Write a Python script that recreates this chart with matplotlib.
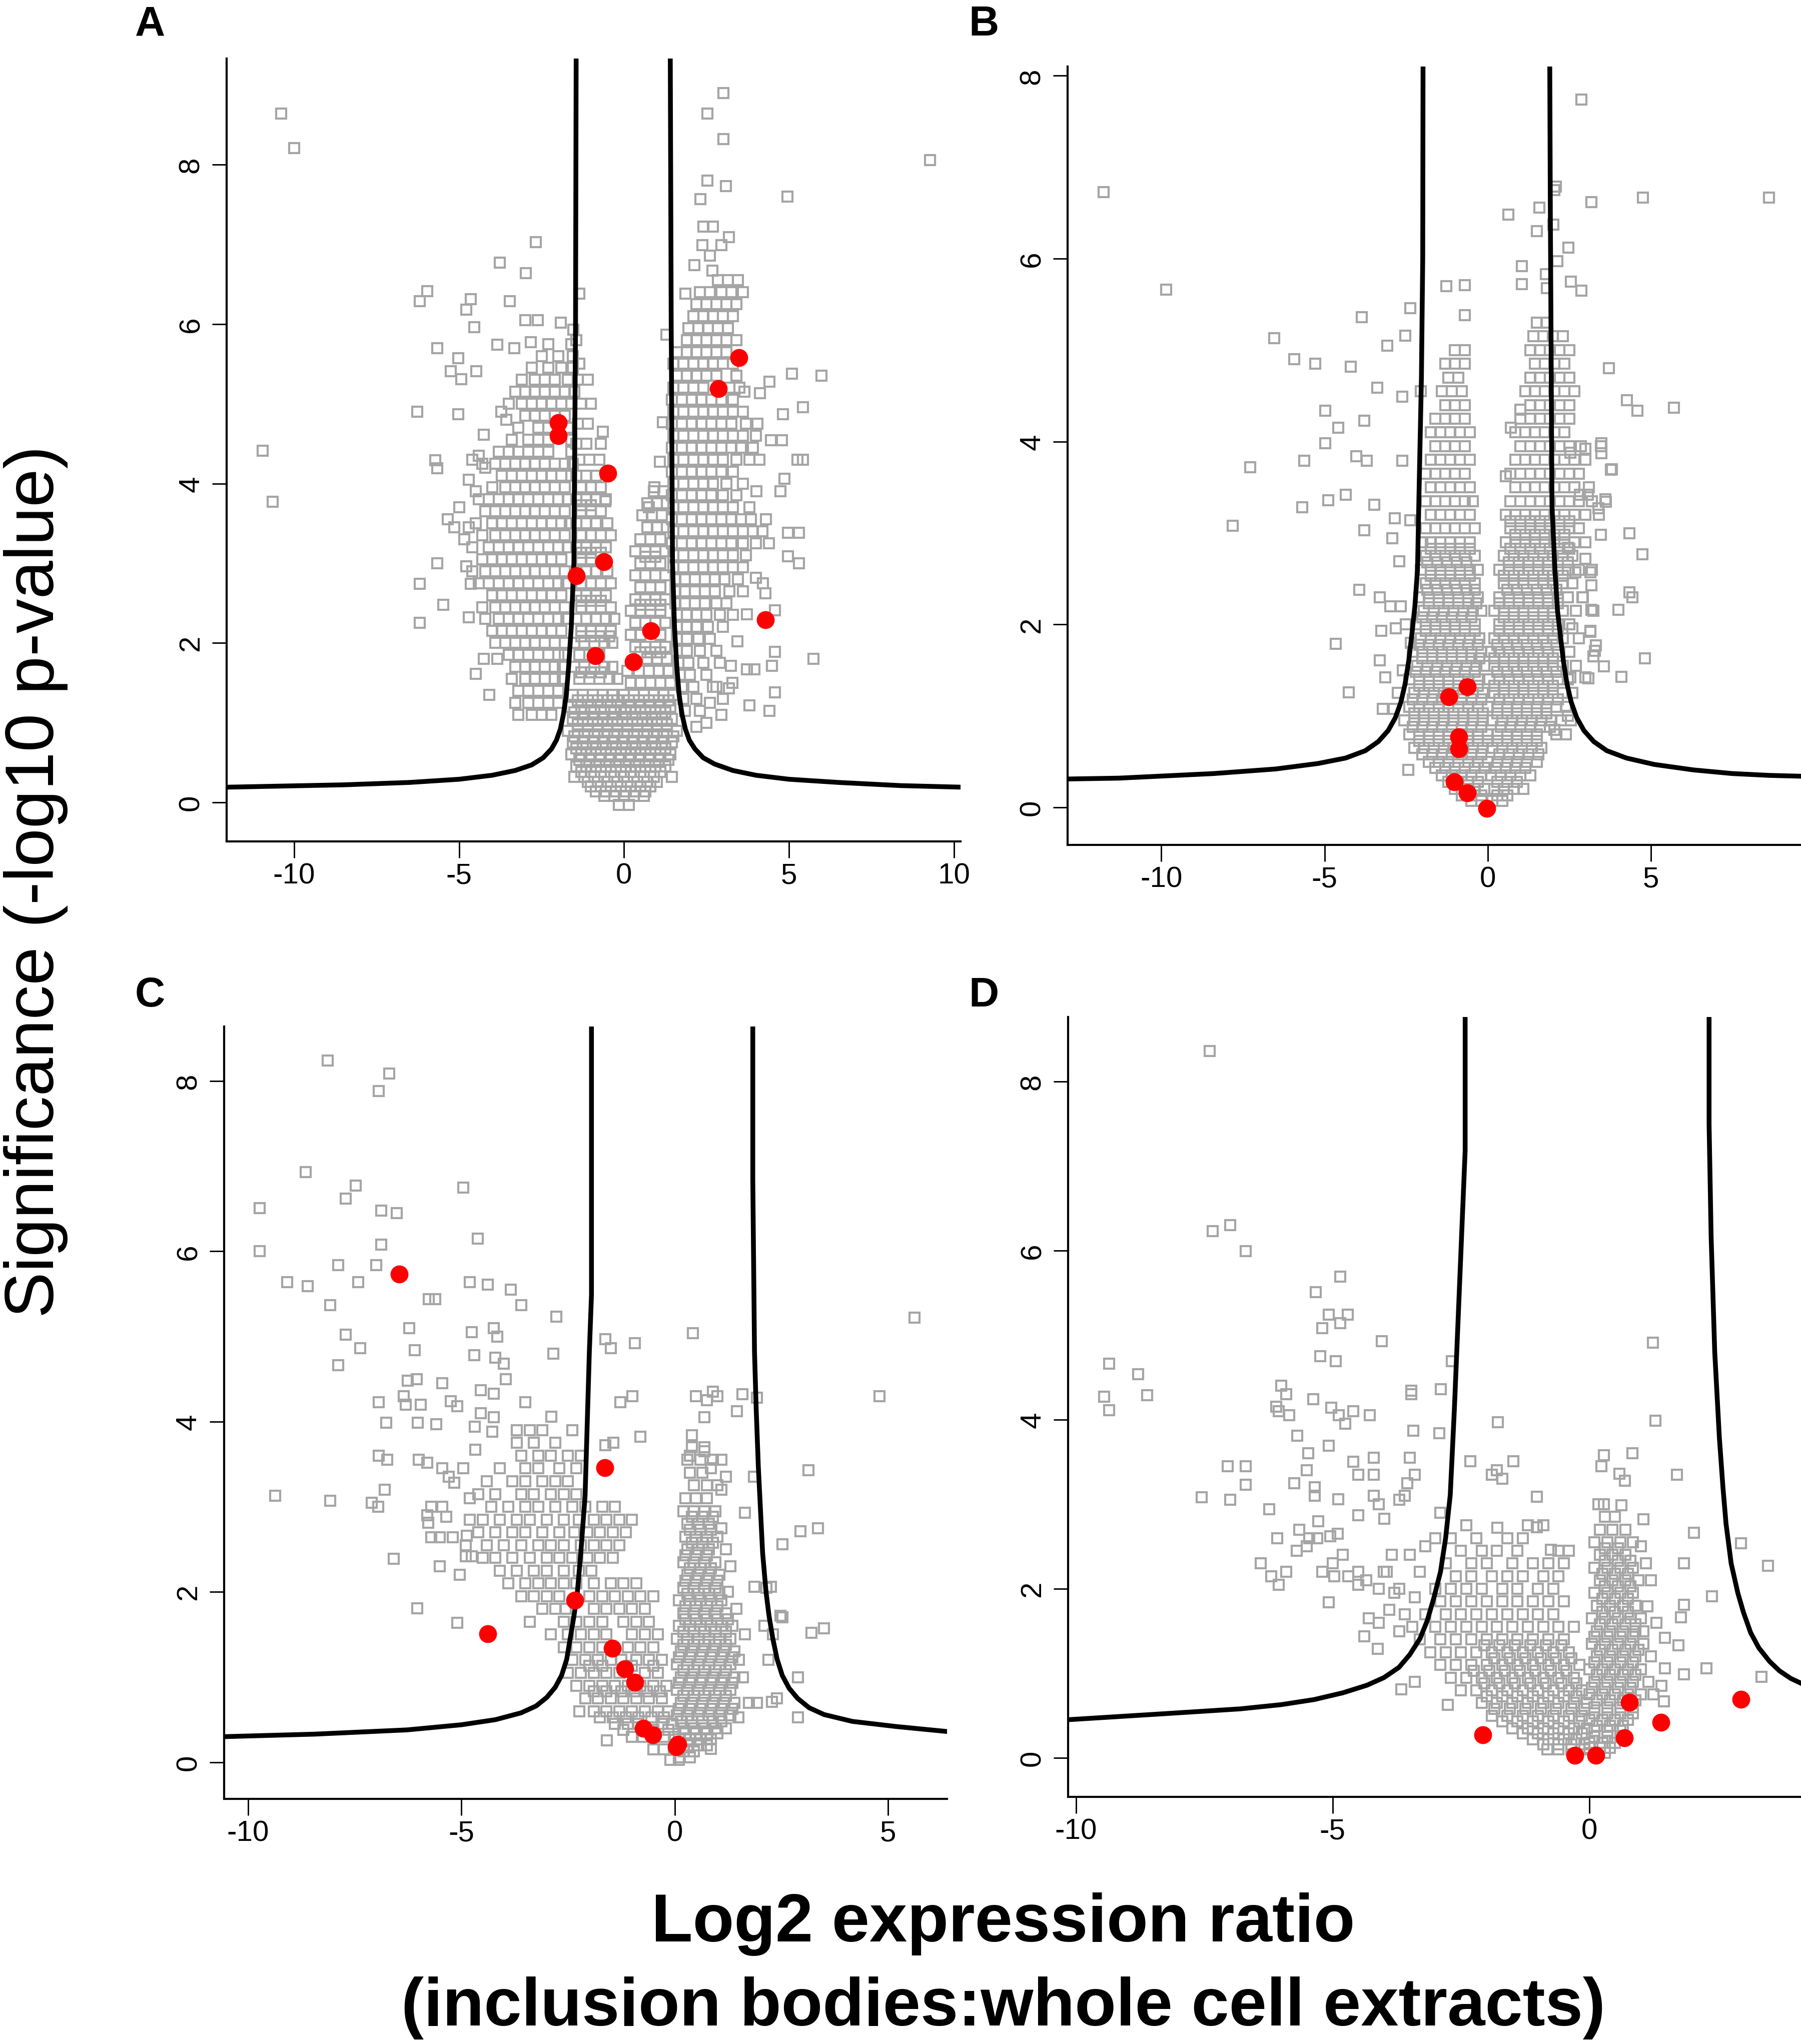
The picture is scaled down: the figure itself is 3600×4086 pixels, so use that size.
import matplotlib
matplotlib.use("Agg")
import matplotlib.pyplot as plt

plt.rcParams['font.family'] = ['Liberation Sans', 'DejaVu Sans']
plt.rcParams['axes.unicode_minus'] = False

GREY = '#a5a5a5'

# ---------------- panel A ----------------
a_xlim = (-12.05, 10.2)
a_ylim = (-0.49, 9.33)
a_xticks = [-10, -5, 0, 5, 10]
a_yticks = [0, 2, 4, 6, 8]

a_scatter = [
    (-10.4, 8.64), (-10.0, 8.21), (-10.95, 4.41), (-10.65, 3.77), (9.27, 8.06),
    (3.01, 8.90), (2.53, 8.64), (3.01, 8.32), (2.53, 7.80), (3.09, 7.73), (2.32, 7.57),
    (4.95, 7.60), (2.40, 7.22), (2.70, 7.22), (3.18, 7.09), (2.37, 6.99), (2.95, 6.99),
    (2.60, 6.86), (2.14, 6.74), (2.68, 6.67), (1.86, 6.38), (1.28, 5.87),
    (-2.67, 7.03), (-3.77, 6.77), (-2.98, 6.64), (-5.96, 6.41), (-6.19, 6.29), (-4.64, 6.31),
    (-4.79, 6.18), (-3.47, 6.29), (-4.54, 5.96), (-3.0, 6.05), (-2.62, 6.05), (-1.91, 6.02),
    (-1.35, 6.38), (-1.53, 5.93), (-5.66, 5.70), (-5.02, 5.57), (-5.25, 5.41), (-4.94, 5.31),
    (-4.48, 5.41), (-3.85, 5.74), (-3.32, 5.70), (-2.83, 5.77), (-6.27, 4.90), (-5.02, 4.87),
    (-4.25, 4.61), (-3.72, 4.9), (-3.57, 4.8), (-5.73, 4.29), (-5.66, 4.19),
    (-6.19, 2.74), (-5.66, 3.0), (-6.19, 2.25), (-5.48, 2.48), (-4.71, 2.32), (-5.0, 3.7),
    (-5.35, 3.55), (-5.15, 3.45), (-4.7, 3.45), (-4.85, 3.3), (-4.79, 2.96), (-4.64, 2.74),
    (-4.49, 1.61), (-4.08, 1.35), (-4.25, 1.8), (-3.84, 1.8), (-4.6, 4.3), (-4.4, 4.35),
    (-4.2, 4.2), (-4.7, 4.05), (-4.5, 3.9),
    (5.09, 5.38), (5.99, 5.35), (5.42, 4.96), (4.82, 4.87), (4.41, 5.28), (4.12, 5.13),
    (3.65, 5.15), (4.79, 4.54), (4.46, 4.54), (5.42, 4.3), (5.25, 4.3), (4.86, 4.06),
    (4.74, 3.9), (4.02, 3.9), (4.97, 3.38), (5.30, 3.38), (4.97, 3.09), (5.30, 3.0),
    (4.0, 2.82), (4.21, 2.75), (4.29, 2.62), (4.58, 2.41), (3.72, 2.36), (5.75, 1.8),
    (4.58, 1.89), (4.49, 1.71), (4.58, 1.38), (4.41, 1.15), (3.80, 1.22), (3.72, 1.67),
    (3.95, 1.67), (3.24, 1.71), (3.28, 1.5), (3.18, 1.43), (3.44, 2.02), (2.6, 1.25),
    (2.95, 1.1), (2.5, 1.0), (2.2, 0.95), (2.8, 1.45), (3.0, 1.3),
    (-0.64, 4.65), (-0.56, 3.78), (1.09, 4.27), (0.92, 3.95), (0.75, 3.7), (1.17, 4.77),
]

a_rows = [
    # right lobe
    (6.55, [2.85, 3.15, 3.45]),
    (6.4, [2.3, 2.6, 2.95, 3.25, 3.6]),
    (6.25, [2.2, 2.5, 2.8, 3.1, 3.4]),
    (6.1, [2.1, 2.4, 2.7, 3.0, 3.3]),
    (5.95, [1.95, 2.25, 2.55, 2.85, 3.15]),
    (5.8, [1.9, 2.2, 2.5, 2.8, 3.1, 3.4]),
    (5.65, [1.6, 1.9, 2.2, 2.5, 2.8, 3.1]),
    (5.5, [1.5, 1.8, 2.1, 2.4, 2.7, 3.0, 3.3]),
    (5.35, [1.6, 1.9, 2.2, 2.5, 2.8, 3.4]),
    (5.2, [1.5, 1.8, 2.1, 2.4, 3.2, 3.5]),
    (5.05, [1.45, 1.75, 2.05, 2.35, 2.65, 2.95, 3.3]),
    (4.9, [1.5, 1.8, 2.1, 2.4, 2.7, 3.0, 3.3, 3.6]),
    (4.75, [1.45, 1.75, 2.05, 2.35, 2.65, 2.95, 3.25, 3.7, 4.05]),
    (4.6, [1.5, 1.8, 2.1, 2.4, 2.7, 3.0, 3.3, 3.6, 4.0]),
    (4.45, [1.45, 1.75, 2.05, 2.35, 2.65, 2.95, 3.25, 3.55, 3.9]),
    (4.3, [1.5, 1.8, 2.1, 2.4, 2.7, 3.0, 3.4, 3.8, 4.1]),
    (4.15, [1.45, 1.75, 2.05, 2.35, 2.65, 2.95, 3.3]),
    (4.0, [1.5, 1.8, 2.1, 2.4, 2.7, 3.1, 3.6]),
    (3.85, [1.45, 1.75, 2.05, 2.35, 2.65, 3.0, 3.4]),
    (3.7, [1.5, 1.8, 2.1, 2.4, 2.7, 3.0, 3.3, 3.8]),
    (3.55, [1.45, 1.75, 2.05, 2.35, 2.65, 2.95, 3.25, 3.55, 3.85, 4.3]),
    (3.4, [1.5, 1.8, 2.1, 2.4, 2.7, 3.0, 3.3, 3.6, 3.9, 4.2]),
    (3.25, [1.45, 1.75, 2.05, 2.35, 2.65, 2.95, 3.25, 3.6, 4.0, 4.4]),
    (3.1, [1.5, 1.8, 2.1, 2.4, 2.7, 3.0, 3.3, 3.7]),
    (2.95, [1.5, 1.8, 2.1, 2.4, 2.7, 3.0, 3.3, 3.6]),
    (2.8, [1.55, 1.85, 2.15, 2.45, 2.75, 3.05, 3.45]),
    (2.65, [1.55, 1.85, 2.15, 2.45, 2.75, 3.2, 3.6]),
    (2.5, [1.55, 1.85, 2.15, 2.45, 2.8, 3.1]),
    (2.35, [1.6, 1.9, 2.2, 2.5, 2.9, 3.3]),
    (2.2, [1.6, 1.9, 2.2, 2.55, 3.0]),
    (2.05, [1.6, 1.9, 2.25, 2.6]),
    (1.9, [1.6, 1.9, 2.3, 2.8]),
    (1.75, [1.65, 1.95, 2.4, 2.9]),
    (1.6, [1.7, 2.0, 2.5]),
    (1.45, [1.75, 2.1, 2.7]),
    (1.3, [1.8, 2.2]),
    (1.15, [1.85, 2.3]),
    # left lobe
    (5.75, [-2.3, -1.6]),
    (5.6, [-2.5, -2.0, -1.55]),
    (5.45, [-2.8, -2.3, -1.9, -1.55]),
    (5.3, [-3.1, -2.7, -2.4, -2.1, -1.7]),
    (5.15, [-3.3, -3.0, -2.7, -2.4, -2.1, -1.8, -1.5]),
    (5.0, [-3.5, -3.1, -2.8, -2.5, -2.2, -1.9, -1.6]),
    (4.85, [-3.0, -2.7, -2.4, -2.1, -1.8]),
    (4.7, [-3.2, -2.6, -2.3, -1.7]),
    (4.55, [-3.4, -2.9, -2.6, -2.3, -1.6]),
    (4.4, [-3.8, -3.5, -3.2, -2.9, -2.6, -2.3, -1.6]),
    (4.25, [-4.3, -3.9, -3.6, -3.3, -3.0, -2.7, -2.4, -2.1, -1.8, -1.55]),
    (4.1, [-3.7, -3.4, -3.1, -2.8, -2.5, -2.2, -1.9, -1.6]),
    (3.95, [-4.0, -3.6, -3.3, -3.0, -2.7, -2.4, -2.1, -1.8]),
    (3.8, [-4.4, -4.1, -3.8, -3.5, -3.2, -2.9, -2.6, -2.3, -2.0, -1.7]),
    (3.65, [-4.2, -3.9, -3.6, -3.3, -3.0, -2.7, -2.4, -2.1, -1.8]),
    (3.5, [-4.5, -4.0, -3.7, -3.4, -3.1, -2.8, -2.5, -2.2, -1.9, -1.65]),
    (3.35, [-4.3, -3.9, -3.6, -3.3, -3.0, -2.7, -2.4, -2.1, -1.8]),
    (3.2, [-4.6, -4.1, -3.8, -3.5, -3.2, -2.9, -2.6, -2.3, -2.0, -1.7]),
    (3.05, [-4.3, -4.0, -3.7, -3.4, -3.1, -2.8, -2.5, -2.2, -1.9]),
    (2.9, [-4.6, -4.2, -3.9, -3.6, -3.3, -3.0, -2.7, -2.4, -2.1, -1.8]),
    (2.75, [-4.4, -4.1, -3.8, -3.5, -3.2, -2.9, -2.6, -2.3, -2.0, -1.75]),
    (2.6, [-4.0, -3.7, -3.4, -3.1, -2.8, -2.5, -2.2, -1.9]),
    (2.45, [-4.3, -3.9, -3.6, -3.3, -3.0, -2.7, -2.4, -2.1, -1.8]),
    (2.3, [-4.2, -3.8, -3.5, -3.2, -2.9, -2.6, -2.3, -2.0, -1.75]),
    (2.15, [-4.0, -3.7, -3.4, -3.1, -2.8, -2.5, -2.2, -1.9]),
    (2.0, [-3.9, -3.6, -3.3, -3.0, -2.7, -2.4, -2.1, -1.8]),
    (1.85, [-3.5, -3.2, -2.9, -2.6, -2.3, -2.0, -1.8]),
    (1.7, [-3.3, -3.0, -2.7, -2.4, -2.1, -1.85]),
    (1.55, [-3.4, -3.0, -2.7, -2.4, -2.1, -1.85]),
    (1.4, [-3.2, -2.9, -2.6, -2.3, -2.0]),
    (1.25, [-3.3, -2.9, -2.6, -2.3, -2.0]),
    (1.1, [-3.2, -2.8, -2.5, -2.2]),
    # inner left column
    (5.8, [-1.45]),
    (5.5, [-1.35]),
    (5.3, [-1.4, -1.1]),
    (5.0, [-1.3, -1.0]),
    (4.75, [-1.4, -1.1]),
    (4.5, [-1.45, -1.15, -0.7]),
    (4.3, [-1.35, -1.05, -0.75]),
    (4.1, [-1.45, -1.15, -0.85]),
    (3.95, [-1.3, -1.0, -0.7]),
    (3.8, [-1.45, -1.15, -0.85, -0.55]),
    (3.73, [-1.3, -1.0]),
    (3.65, [-1.3, -1.0, -0.7]),
    (3.5, [-1.45, -1.15, -0.85, -0.5]),
    (3.35, [-1.3, -1.0, -0.7, -0.4]),
    (3.2, [-1.45, -1.15, -0.85, -0.55]),
    (3.13, [-1.3, -1.0, -0.7]),
    (3.05, [-1.3, -1.0]),
    (2.9, [-1.45, -1.15, -0.85, -0.5]),
    (2.75, [-1.3, -1.0, -0.7, -0.4]),
    (2.6, [-1.45, -1.15, -0.85, -0.55]),
    (2.53, [-1.3, -1.0, -0.7]),
    (2.45, [-1.3, -1.0, -0.7, -0.4]),
    (2.3, [-1.45, -1.15, -0.85, -0.55, -0.3]),
    (2.15, [-1.3, -1.0, -0.7, -0.4]),
    (2.08, [-1.3, -1.0, -0.7, -0.45]),
    (2.0, [-1.5, -1.2, -0.9, -0.6, -0.35]),
    (1.85, [-1.35, -1.05, -0.75]),
    (1.7, [-1.5, -1.2, -0.9, -0.6, -0.35]),
    (1.63, [-1.3, -1.0, -0.7]),
    (1.55, [-1.35, -1.05, -0.75, -0.45, -0.2]),
    # inner right column
    (3.9, [0.9, 1.2]),
    (3.75, [0.7, 1.0, 1.3]),
    (3.6, [0.55, 0.85, 1.15]),
    (3.45, [0.7, 1.0, 1.3]),
    (3.3, [0.5, 0.8, 1.1]),
    (3.15, [0.35, 0.65, 0.95, 1.25]),
    (3.08, [0.65, 0.95]),
    (3.0, [0.5, 0.8, 1.1]),
    (2.85, [0.35, 0.65, 0.95, 1.25]),
    (2.7, [0.5, 0.8, 1.1]),
    (2.55, [0.35, 0.65, 0.95, 1.25]),
    (2.48, [0.5, 0.8, 1.1]),
    (2.4, [0.2, 0.5, 0.8, 1.1]),
    (2.25, [0.35, 0.65, 0.95, 1.25]),
    (2.1, [0.2, 0.5, 1.1]),
    (1.95, [0.35, 0.65, 0.95, 1.25]),
    (1.88, [0.5, 0.8, 1.1]),
    (1.8, [0.7, 1.0, 1.3]),
    (1.65, [0.1, 0.45, 0.75, 1.05, 1.35]),
    (1.5, [0.2, 0.5, 0.8, 1.1, 1.4]),
    # bottom of the V
    (1.35, [-1.55, -1.25, -0.95, -0.65, -0.35, 0.0, 0.3, 0.6, 0.9, 1.2, 1.5]),
    (1.28, [-1.4, -1.1, -0.8, -0.5, -0.2, 0.15, 0.45, 0.75, 1.05, 1.35]),
    (1.2, [-1.6, -1.3, -1.0, -0.7, -0.4, -0.1, 0.2, 0.5, 0.8, 1.1, 1.4]),
    (1.13, [-1.5, -1.2, -0.9, -0.6, -0.3, 0.05, 0.35, 0.65, 0.95, 1.25]),
    (1.05, [-1.55, -1.25, -0.95, -0.65, -0.35, -0.05, 0.25, 0.55, 0.85, 1.15, 1.45]),
    (0.98, [-1.4, -1.1, -0.8, -0.5, -0.2, 0.1, 0.4, 0.7, 1.0, 1.3]),
    (0.9, [-1.7, -1.4, -1.1, -0.8, -0.5, -0.2, 0.1, 0.4, 0.7, 1.0, 1.3, 1.6]),
    (0.83, [-1.5, -1.2, -0.9, -0.6, -0.3, 0.0, 0.3, 0.6, 0.9, 1.2, 1.5]),
    (0.75, [-1.55, -1.25, -0.95, -0.65, -0.35, -0.05, 0.25, 0.55, 0.85, 1.15, 1.45]),
    (0.68, [-1.45, -1.15, -0.85, -0.55, -0.25, 0.05, 0.35, 0.65, 0.95, 1.25]),
    (0.6, [-1.6, -1.3, -1.0, -0.7, -0.4, -0.1, 0.2, 0.5, 0.8, 1.1, 1.4]),
    (0.53, [-1.35, -1.05, -0.75, -0.45, -0.15, 0.15, 0.45, 0.75, 1.05, 1.35]),
    (0.45, [-1.45, -1.15, -0.85, -0.55, -0.25, 0.05, 0.35, 0.65, 0.95, 1.25]),
    (0.38, [-1.3, -1.0, -0.7, -0.4, -0.1, 0.2, 0.5, 0.8, 1.1]),
    (0.32, [-1.5, -1.2, -0.9, -0.6, -0.3, 0.0, 0.3, 0.6, 0.9, 1.45]),
    (0.26, [-1.1, -0.8, -0.5, -0.2, 0.1, 0.4, 0.7, 1.0]),
    (0.2, [-1.0, -0.7, -0.4, -0.1, 0.2, 0.5, 0.8]),
    (0.14, [-0.85, -0.55, -0.25, 0.05, 0.35, 0.65]),
    (0.08, [-0.6, -0.3, 0.0, 0.3, 0.6]),
    (-0.03, [-0.15, 0.15]),
]

a_red = [(-2.0, 4.76), (-2.0, 4.60), (-0.49, 4.13), (-0.61, 3.02), (-1.45, 2.84),
         (-0.87, 1.84), (0.28, 1.76), (0.82, 2.15), (4.28, 2.29), (2.86, 5.19), (3.49, 5.58)]

a_curve_left = [(-1.45, 9.6), (-1.47, 6.0), (-1.52, 3.0), (-1.6, 2.2), (-1.68, 1.7),
                (-1.75, 1.35), (-1.84, 1.1), (-1.93, 0.92), (-2.05, 0.78), (-2.2, 0.67),
                (-2.45, 0.56), (-2.8, 0.47), (-3.3, 0.4), (-4.0, 0.34), (-5.0, 0.29),
                (-6.5, 0.25), (-8.5, 0.22), (-12.1, 0.19)]
a_curve_right = [(1.40, 9.6), (1.43, 6.0), (1.47, 3.0), (1.53, 2.2), (1.6, 1.7),
                 (1.67, 1.35), (1.76, 1.1), (1.86, 0.92), (1.98, 0.78), (2.15, 0.67),
                 (2.4, 0.56), (2.75, 0.48), (3.3, 0.4), (4.0, 0.34), (5.0, 0.29),
                 (6.5, 0.25), (8.4, 0.21), (10.3, 0.19)]

# ---------------- panel B ----------------
b_xlim = (-12.87, 9.6)
b_ylim = (-0.41, 8.1)
b_xticks = [-10, -5, 0, 5]
b_yticks = [0, 2, 4, 6, 8]

b_scatter = [
    (-11.77, 6.73), (-9.85, 5.66), (2.87, 7.74), (8.62, 6.67), (4.76, 6.67), (3.17, 6.62),
    (2.09, 6.79), (2.05, 6.75), (0.63, 6.48), (1.59, 6.56), (1.51, 6.3), (2.01, 6.37),
    (1.04, 5.92), (1.04, 5.72), (2.47, 6.12), (2.14, 5.97), (2.55, 5.75), (2.87, 5.65),
    (1.79, 5.83), (1.82, 5.68),
    (-2.37, 5.46), (-1.27, 5.70), (-0.70, 5.71), (-0.70, 5.38), (-3.86, 5.36), (-2.53, 5.16),
    (-3.07, 5.05), (-6.54, 5.13), (-5.93, 4.90), (-5.29, 4.85), (-4.19, 4.82), (-3.39, 4.59),
    (-2.61, 4.49), (-4.98, 4.34), (-4.58, 4.15), (-3.78, 4.23), (-4.98, 3.98), (-4.03, 3.84),
    (-3.70, 3.79), (-5.62, 3.79), (-7.27, 3.72), (-2.61, 3.79), (-4.89, 3.36), (-4.35, 3.42),
    (-5.68, 3.28), (-3.47, 3.31), (-7.82, 3.08), (-3.78, 3.03), (-2.84, 3.16), (-2.37, 3.14),
    (-2.92, 2.94), (-2.71, 2.69), (-3.94, 2.38), (-4.66, 1.79), (-4.25, 1.26), (-2.44, 0.41),
    (-3.26, 1.93), (-3.30, 1.61), (-3.14, 1.42), (-3.22, 1.08), (-2.87, 1.08), (-2.82, 1.96),
    (-3.30, 2.30), (-2.99, 2.2), (-2.67, 2.2), (-2.51, 2.0), (-2.36, 1.80), (-2.6, 1.5),
    (-2.75, 1.25), (-2.05, 4.55),
    (3.72, 4.80), (4.27, 4.45), (4.59, 4.34), (5.70, 4.37), (3.49, 3.98), (3.49, 3.87),
    (3.80, 3.70), (3.60, 3.37), (4.35, 3.0), (4.74, 2.77), (4.35, 2.35), (4.43, 2.3),
    (4.0, 2.16), (4.82, 1.63), (4.09, 1.43), (3.56, 1.54), (3.08, 1.41), (3.15, 1.93),
    (3.28, 1.71), (3.17, 2.43), (3.17, 2.16), (3.47, 2.98), (3.07, 3.42),
    (2.53, 3.88), (2.99, 3.92), (3.47, 3.95), (3.78, 3.69), (2.83, 3.42), (3.62, 3.34),
    (3.39, 3.27), (2.45, 2.84), (2.99, 2.72), (2.68, 2.57), (3.14, 2.57), (2.91, 2.30),
    (3.24, 2.15), (2.60, 1.96), (3.14, 1.92), (3.31, 1.77), (3.24, 1.65), (2.53, 1.42),
    (2.99, 1.42), (2.45, 1.0), (2.05, 0.85), (0.71, 4.15), (1.0, 4.35), (0.55, 3.62),
]

b_rows = [
    # left column
    (5.0, [-1.0, -0.7]),
    (4.85, [-1.3, -1.0, -0.7]),
    (4.7, [-1.2, -0.9]),
    (4.55, [-1.4, -1.1, -0.8]),
    (4.4, [-1.3, -1.0, -0.7]),
    (4.25, [-1.6, -1.3, -1.0, -0.7]),
    (4.1, [-1.75, -1.45, -1.15, -0.85, -0.55]),
    (3.95, [-1.6, -1.3, -1.0, -0.7]),
    (3.8, [-1.75, -1.45, -1.15, -0.85, -0.55]),
    (3.65, [-1.9, -1.6, -1.3, -1.0, -0.7]),
    (3.5, [-1.75, -1.45, -1.15, -0.85, -0.55]),
    (3.35, [-1.9, -1.6, -1.3, -1.0, -0.7, -0.45]),
    (3.2, [-1.75, -1.45, -1.15, -0.85, -0.55]),
    (3.05, [-1.9, -1.6, -1.3, -1.0, -0.7, -0.4]),
    (2.9, [-2.0, -1.75, -1.45, -1.15, -0.85, -0.55]),
    (2.83, [-1.75, -1.45, -1.15, -0.85, -0.55]),
    (2.75, [-1.9, -1.6, -1.3, -1.0, -0.7, -0.4]),
    (2.68, [-1.85, -1.55, -1.25, -0.95, -0.65]),
    (2.6, [-2.05, -1.75, -1.45, -1.15, -0.85, -0.55, -0.3]),
    (2.53, [-1.75, -1.45, -1.15, -0.85, -0.55]),
    (2.45, [-1.9, -1.6, -1.3, -1.0, -0.7, -0.4]),
    (2.38, [-1.85, -1.55, -1.25, -0.95, -0.65, -0.4]),
    (2.3, [-2.1, -1.8, -1.5, -1.2, -0.9, -0.6, -0.3]),
    (2.23, [-1.8, -1.5, -1.2, -0.9, -0.6, -0.35]),
    (2.15, [-1.95, -1.65, -1.35, -1.05, -0.75, -0.45, -0.2]),
    (2.08, [-2.0, -1.7, -1.4, -1.1, -0.8, -0.5]),
    (2.0, [-2.2, -1.9, -1.6, -1.3, -1.0, -0.7, -0.4]),
    (1.93, [-1.9, -1.6, -1.3, -1.0, -0.7, -0.4]),
    (1.85, [-2.05, -1.75, -1.45, -1.15, -0.85, -0.55, -0.25]),
    (1.78, [-2.1, -1.8, -1.5, -1.2, -0.9, -0.6, -0.3]),
    (1.7, [-2.3, -2.0, -1.7, -1.4, -1.1, -0.8, -0.5, -0.2]),
    (1.63, [-2.0, -1.7, -1.4, -1.1, -0.8, -0.5, -0.25]),
    (1.55, [-2.15, -1.85, -1.55, -1.25, -0.95, -0.65, -0.35, -0.1]),
    (1.48, [-2.2, -1.9, -1.6, -1.3, -1.0, -0.7, -0.4]),
    (1.4, [-2.4, -2.1, -1.8, -1.5, -1.2, -0.9, -0.6, -0.3]),
    (1.33, [-2.1, -1.8, -1.5, -1.2, -0.9, -0.6, -0.3]),
    (1.25, [-2.25, -1.95, -1.65, -1.35, -1.05, -0.75, -0.45, -0.15]),
    (1.18, [-2.3, -2.0, -1.7, -1.4, -1.1, -0.8, -0.5, -0.2]),
    (1.1, [-2.4, -2.1, -1.8, -1.5, -1.2, -0.9, -0.6, -0.3, 0.0]),
    (1.03, [-2.25, -1.95, -1.65, -1.35, -1.05, -0.75, -0.45, -0.15]),
    (0.95, [-2.55, -2.25, -1.95, -1.65, -1.35, -1.05, -0.75, -0.45, -0.15]),
    (0.88, [-2.3, -2.0, -1.7, -1.4, -1.1, -0.8, -0.5, -0.2]),
    (0.8, [-2.4, -2.1, -1.8, -1.5, -1.2, -0.9, -0.6, -0.3, 0.0]),
    (0.73, [-2.1, -1.8, -1.5, -1.2, -0.9, -0.6, -0.3, 0.0]),
    (0.65, [-2.25, -1.95, -1.65, -1.35, -1.05, -0.75, -0.45, -0.15]),
    (0.58, [-2.0, -1.7, -1.4, -1.1, -0.8, -0.5, -0.2]),
    (0.5, [-1.8, -1.5, -1.2, -0.9, -0.6, -0.3, 0.0]),
    (0.43, [-1.6, -1.3, -1.0, -0.7, -0.4, -0.1]),
    (0.35, [-1.4, -1.1, -0.8, -0.5, -0.2]),
    (0.28, [-1.2, -0.9, -0.6, -0.3]),
    (0.2, [-1.0, -0.7, -0.4, -0.1]),
    (0.13, [-0.8, -0.5, -0.2]),
    (0.07, [-0.5, -0.2]),
    # right column
    (5.3, [1.5, 1.8]),
    (5.15, [1.4, 1.7, 2.0, 2.3]),
    (5.0, [1.3, 1.6, 1.9, 2.2, 2.5]),
    (4.85, [1.45, 1.75, 2.05, 2.35]),
    (4.7, [1.3, 1.6, 1.9, 2.2, 2.5]),
    (4.55, [1.15, 1.45, 1.75, 2.05, 2.35, 2.65]),
    (4.4, [1.3, 1.6, 1.9, 2.2, 2.5]),
    (4.25, [1.0, 1.3, 1.6, 1.9, 2.2, 2.5]),
    (4.1, [0.85, 1.15, 1.45, 1.75, 2.05, 2.35]),
    (3.95, [1.0, 1.3, 1.6, 1.9, 2.2, 2.5, 2.85]),
    (3.8, [0.85, 1.15, 1.45, 1.75, 2.05, 2.35, 2.65, 3.0]),
    (3.65, [0.7, 1.0, 1.3, 1.6, 1.9, 2.2, 2.5, 2.8]),
    (3.5, [0.85, 1.15, 1.45, 1.75, 2.05, 2.35, 2.65, 3.1]),
    (3.35, [0.7, 1.0, 1.3, 1.6, 1.9, 2.2, 2.5, 2.8, 3.2]),
    (3.2, [0.55, 0.85, 1.15, 1.45, 1.75, 2.05, 2.35, 2.65, 3.0, 3.4]),
    (3.13, [0.7, 1.0, 1.3, 1.6, 1.9, 2.2, 2.5]),
    (3.05, [0.7, 1.0, 1.3, 1.6, 1.9, 2.2, 2.5, 2.8]),
    (2.98, [0.85, 1.15, 1.45, 1.75, 2.05, 2.35]),
    (2.9, [0.55, 0.85, 1.15, 1.45, 1.75, 2.05, 2.35, 2.65, 3.0]),
    (2.83, [0.7, 1.0, 1.3, 1.6, 1.9, 2.2, 2.5]),
    (2.75, [0.5, 0.8, 1.1, 1.4, 1.7, 2.0, 2.3, 2.6]),
    (2.68, [0.65, 0.95, 1.25, 1.55, 1.85, 2.15, 2.45]),
    (2.6, [0.35, 0.65, 0.95, 1.25, 1.55, 1.85, 2.15, 2.45, 2.8, 3.2]),
    (2.53, [0.5, 0.8, 1.1, 1.4, 1.7, 2.0, 2.3]),
    (2.45, [0.5, 0.8, 1.1, 1.4, 1.7, 2.0, 2.3, 2.6]),
    (2.38, [0.6, 0.9, 1.2, 1.5, 1.8, 2.1]),
    (2.3, [0.35, 0.65, 0.95, 1.25, 1.55, 1.85, 2.15, 2.45, 2.9]),
    (2.23, [0.35, 0.65, 0.95, 1.25, 1.55, 1.85, 2.15]),
    (2.15, [0.2, 0.5, 0.8, 1.1, 1.4, 1.7, 2.0, 2.3, 2.7]),
    (2.08, [0.5, 0.8, 1.1, 1.4, 1.7, 2.0]),
    (2.0, [0.35, 0.65, 0.95, 1.25, 1.55, 1.85, 2.15, 2.5]),
    (1.93, [0.35, 0.65, 0.95, 1.25, 1.55, 1.85, 2.15]),
    (1.85, [0.2, 0.5, 0.8, 1.1, 1.4, 1.7, 2.0, 2.3, 2.8]),
    (1.78, [0.3, 0.6, 0.9, 1.2, 1.5, 1.8, 2.1]),
    (1.7, [0.1, 0.35, 0.65, 0.95, 1.25, 1.55, 1.85, 2.15, 2.5]),
    (1.63, [0.2, 0.5, 0.8, 1.1, 1.4, 1.7, 2.0]),
    (1.55, [0.2, 0.5, 0.8, 1.1, 1.4, 1.7, 2.0, 2.3, 2.7]),
    (1.48, [0.3, 0.6, 0.9, 1.2, 1.5, 1.8, 2.1]),
    (1.4, [0.05, 0.35, 0.65, 0.95, 1.25, 1.55, 1.85, 2.15, 2.45]),
    (1.33, [0.2, 0.5, 0.8, 1.1, 1.4, 1.7, 2.0]),
    (1.25, [0.2, 0.5, 0.8, 1.1, 1.4, 1.7, 2.0, 2.3, 2.6]),
    (1.18, [0.35, 0.65, 0.95, 1.25, 1.55, 1.85, 2.15]),
    (1.1, [0.3, 0.6, 0.9, 1.2, 1.5, 1.8, 2.1, 2.4]),
    (1.03, [0.3, 0.6, 0.9, 1.2, 1.5, 1.8]),
    (0.95, [0.15, 0.45, 0.75, 1.05, 1.35, 1.65, 1.95, 2.25, 2.55]),
    (0.88, [0.4, 0.7, 1.0, 1.3, 1.6, 1.9]),
    (0.8, [0.3, 0.6, 0.9, 1.2, 1.5, 2.1, 2.4]),
    (0.73, [0.3, 0.6, 0.9, 1.2, 1.5]),
    (0.65, [0.15, 0.45, 0.75, 1.05, 1.35, 1.65]),
    (0.58, [0.35, 0.65, 0.95, 1.25, 1.55]),
    (0.5, [0.3, 0.6, 0.9, 1.2, 1.5]),
    (0.43, [0.25, 0.55, 0.85, 1.15]),
    (0.35, [0.1, 0.4, 0.7, 1.0, 1.3]),
    (0.28, [0.3, 0.6, 0.9]),
    (0.2, [0.2, 0.5, 0.8, 1.1]),
    (0.13, [0.3, 0.6]),
    (0.07, [0.15, 0.45]),
]

b_red = [(-1.19, 1.21), (-0.62, 1.32), (-0.88, 0.77), (-0.88, 0.64), (-1.02, 0.28),
         (-0.62, 0.16), (-0.03, -0.01)]

b_curve_left = [(-1.98, 8.3), (-1.99, 6.0), (-2.03, 4.7), (-2.1, 3.5), (-2.15, 2.6),
                (-2.23, 2.2), (-2.32, 1.9), (-2.42, 1.6), (-2.53, 1.35), (-2.66, 1.15),
                (-2.83, 0.98), (-3.05, 0.84), (-3.35, 0.72), (-3.75, 0.62), (-4.35, 0.54),
                (-5.2, 0.48), (-6.5, 0.42), (-8.4, 0.37), (-11.3, 0.32), (-13.0, 0.31)]
b_curve_right = [(1.90, 8.3), (1.92, 6.5), (1.97, 3.3), (2.06, 2.6), (2.14, 2.15),
                 (2.22, 1.9), (2.32, 1.6), (2.43, 1.35), (2.56, 1.15), (2.73, 0.98),
                 (2.95, 0.84), (3.25, 0.72), (3.65, 0.62), (4.25, 0.54), (5.1, 0.47),
                 (6.3, 0.41), (7.5, 0.37), (8.64, 0.35), (9.7, 0.34)]

# ---------------- panel C ----------------
c_xlim = (-10.56, 6.38)
c_ylim = (-0.43, 8.64)
c_xticks = [-10, -5, 0, 5]
c_yticks = [0, 2, 4, 6, 8]

c_scatter = [
    (-8.13, 8.24), (-6.69, 8.09), (-6.93, 7.88), (-8.65, 6.93), (-7.48, 6.77), (-7.71, 6.62),
    (-9.73, 6.51), (-6.88, 6.48), (-6.51, 6.45), (-4.96, 6.75), (-9.73, 6.0), (-6.88, 6.08),
    (-4.62, 6.15), (-7.89, 5.84), (-7.0, 5.84), (-9.08, 5.64), (-8.6, 5.59), (-7.42, 5.64),
    (-8.07, 5.37), (-4.80, 5.64), (-4.38, 5.61), (-5.76, 5.44), (-5.61, 5.44), (-3.84, 5.55),
    (-3.60, 5.37), (-2.77, 5.23), (-6.22, 5.10), (-4.75, 5.05), (-4.24, 5.1), (-4.16, 5.0),
    (-7.71, 5.02), (-7.37, 4.86), (-6.09, 4.84), (-7.89, 4.66), (-4.7, 4.78), (-4.2, 4.75),
    (-4.0, 4.68), (-2.84, 4.8), (-3.96, 4.5), (-6.25, 4.48), (-6.05, 4.5), (-5.45, 4.45),
    (-6.35, 4.3), (-6.3, 4.2), (-5.95, 4.2), (-6.93, 4.23), (-5.25, 4.24), (-5.1, 4.18),
    (-4.55, 4.37), (-4.24, 4.33), (-4.55, 4.1), (-4.24, 4.05), (-3.50, 4.23), (-6.76, 3.99),
    (-6.02, 3.99), (-5.59, 3.97), (-4.68, 3.94), (-4.27, 3.88), (-3.7, 3.9), (-2.89, 4.06),
    (-6.93, 3.60), (-6.74, 3.55), (-6.0, 3.55), (-5.8, 3.52), (-5.45, 3.45), (-5.3, 3.35),
    (-5.17, 3.28), (-4.96, 3.45), (-4.67, 3.67), (-9.36, 3.13), (-8.07, 3.07), (-7.1, 3.05),
    (-6.95, 3.0), (-6.8, 3.2), (-4.8, 3.1), (-6.58, 2.39), (-6.03, 1.81), (-5.10, 1.64),
    (-5.51, 2.30), (-5.8, 2.9), (-5.7, 3.0), (-5.45, 3.0), (-5.35, 2.88), (-5.7, 2.64),
    (-5.5, 2.64), (-5.2, 2.64), (-4.87, 2.66), (-5.78, 2.81), (-5.04, 2.2), (-4.9, 2.42),
    (-4.75, 2.42),
    (-1.63, 4.97), (-1.50, 4.86), (-0.93, 4.92), (0.43, 5.04), (-1.27, 4.23), (-0.99, 4.30),
    (-0.80, 3.82), (-1.63, 3.72), (-1.44, 3.75),
    (5.62, 5.22), (4.80, 4.30), (3.13, 3.43), (2.95, 2.71), (3.36, 2.75), (2.53, 2.56),
    (2.53, 1.70), (3.2, 1.52), (3.5, 1.57), (2.89, 0.53), (2.89, 1.0), (2.28, 0.71),
    (1.87, 2.06), (2.25, 2.06), (1.65, 2.93), (1.86, 3.35), (1.46, 4.12), (1.59, 4.32),
    (1.93, 4.28), (0.5, 4.3), (0.9, 4.35), (0.75, 4.25), (1.0, 4.3), (0.69, 4.05),
    (0.4, 3.84), (0.35, 3.6), (0.7, 3.65), (0.85, 3.45), (1.1, 3.55), (1.2, 3.35), (1.1, 3.2),
    (-1.59, 0.26), (0.85, 0.16), (-2.23, 0.6), (1.74, 0.70), (1.93, 0.70), (1.49, 0.53),
    (1.5, 1.2), (1.65, 1.5), (1.45, 1.8), (1.6, 1.0), (1.3, 2.3), (1.2, 2.5), (1.1, 2.75),
    (1.25, 2.0), (2.48, 1.72), (2.15, 2.05), (2.1, 1.6), (2.3, 1.5), (2.2, 1.2), (2.4, 0.75),
]

c_rows = [
    # left band
    (3.9, [-3.4, -3.1, -2.4]),
    (3.75, [-3.7, -3.3, -2.8]),
    (3.6, [-3.6, -3.2, -2.9, -2.5, -2.2]),
    (3.45, [-4.1, -3.5, -3.2, -2.7, -2.3]),
    (3.3, [-4.4, -3.8, -3.5, -3.1, -2.8, -2.5]),
    (3.15, [-4.6, -4.2, -3.6, -3.3, -2.9, -2.6, -2.3]),
    (3.0, [-4.3, -3.9, -3.5, -3.2, -2.8, -2.4, -2.1, -1.7, -1.4]),
    (2.85, [-4.8, -4.5, -4.1, -3.7, -3.4, -3.0, -2.6, -2.25, -1.9, -1.6, -1.3, -1.0]),
    (2.7, [-4.6, -4.2, -3.8, -3.5, -3.1, -2.7, -2.35, -2.05, -1.75, -1.45, -1.15]),
    (2.55, [-4.9, -4.4, -4.0, -3.6, -3.2, -2.9, -2.6, -2.2, -1.9, -1.6, -1.3]),
    (2.4, [-4.5, -4.2, -3.8, -3.4, -3.0, -2.7, -2.4, -2.05, -1.75, -1.45]),
    (2.25, [-4.1, -3.7, -3.3, -3.0, -2.6, -2.25, -1.95]),
    (2.1, [-3.9, -3.5, -3.2, -2.9, -2.6, -2.3, -1.9, -1.5, -1.2, -0.9]),
    (1.95, [-3.6, -3.3, -3.0, -2.7, -2.0, -1.7, -1.4, -1.1, -0.8, -0.5]),
    (1.8, [-3.1, -2.8, -2.55, -1.9, -1.6, -1.3, -1.0, -0.7]),
    (1.65, [-3.4, -2.6, -2.3, -2.0, -1.7, -1.2, -0.9, -0.6]),
    (1.5, [-2.9, -2.5, -2.2, -1.9, -1.6, -1.0, -0.7, -0.4]),
    (1.35, [-2.6, -2.3, -2.0, -1.7, -1.1, -0.8, -0.5]),
    (1.2, [-2.4, -2.1, -1.8, -1.5, -1.25, -0.9, -0.6, -0.3]),
    (1.13, [-2.0, -1.7, -1.0, -0.5]),
    (1.05, [-2.5, -2.2, -1.9, -1.6, -1.3, -0.7, -0.4]),
    (0.9, [-2.3, -2.0, -1.7, -1.4, -1.1, -0.8, -0.5, -0.2]),
    (0.83, [-1.9, -1.6, -1.25, -0.95, -0.65, -0.35]),
    (0.75, [-2.1, -1.8, -1.5, -1.2, -0.9, -0.6, -0.3]),
    (0.6, [-1.9, -1.6, -1.3, -1.0, -0.7, -0.4, -0.15]),
    (0.53, [-1.75, -1.45, -1.15, -0.85, -0.55, -0.25]),
    (0.45, [-1.4, -1.1, -0.85, -0.3, -0.05]),
    (0.38, [-1.2, -0.5, -0.15]),
    (0.3, [-1.0, -0.75, -0.25, 0.0]),
    (0.15, [-0.5, -0.25]),
    (0.03, [-0.1, 0.1]),
    # right column
    (3.7, [0.4, 0.7]),
    (3.55, [0.3, 0.6, 0.9]),
    (3.4, [0.35, 0.65]),
    (3.25, [0.45, 0.75, 1.0]),
    (3.1, [0.25, 0.5, 0.75]),
    (2.95, [0.2, 0.45, 0.7, 0.95]),
    (2.88, [0.4, 0.65, 0.9]),
    (2.8, [0.3, 0.55, 0.8]),
    (2.73, [0.35, 0.6, 0.85]),
    (2.65, [0.25, 0.5, 0.75, 1.0]),
    (2.58, [0.4, 0.65, 0.9]),
    (2.5, [0.3, 0.55, 0.8]),
    (2.43, [0.25, 0.5, 0.75]),
    (2.35, [0.2, 0.45, 0.7, 0.95]),
    (2.28, [0.35, 0.6, 0.85]),
    (2.2, [0.3, 0.55, 0.8, 1.05]),
    (2.13, [0.25, 0.5, 0.75, 1.0]),
    (2.05, [0.2, 0.45, 0.7, 0.95]),
    (1.98, [0.3, 0.55, 0.8, 1.05]),
    (1.9, [0.1, 0.35, 0.6, 0.85, 1.1]),
    (1.83, [0.25, 0.5, 0.75, 1.0]),
    (1.75, [0.2, 0.45, 0.7, 0.95, 1.2]),
    (1.68, [0.25, 0.5, 0.75, 1.0, 1.25]),
    (1.6, [0.1, 0.35, 0.6, 0.85, 1.1, 1.35]),
    (1.53, [0.2, 0.45, 0.7, 0.95, 1.2]),
    (1.45, [0.05, 0.3, 0.55, 0.8, 1.05, 1.3]),
    (1.38, [0.2, 0.45, 0.7, 0.95, 1.2]),
    (1.3, [0.15, 0.4, 0.65, 0.9, 1.15, 1.4]),
    (1.23, [0.1, 0.35, 0.6, 0.85, 1.1, 1.35]),
    (1.15, [0.05, 0.3, 0.55, 0.8, 1.05, 1.3]),
    (1.08, [0.2, 0.45, 0.7, 0.95, 1.2]),
    (1.0, [0.15, 0.4, 0.65, 0.9, 1.15, 1.4]),
    (0.93, [0.1, 0.35, 0.6, 0.85, 1.1, 1.35]),
    (0.85, [0.05, 0.3, 0.55, 0.8, 1.05, 1.3]),
    (0.78, [0.2, 0.45, 0.7, 0.95, 1.2]),
    (0.7, [0.15, 0.4, 0.65, 0.9, 1.15, 1.4]),
    (0.63, [0.1, 0.35, 0.6, 0.85, 1.1, 1.35]),
    (0.55, [0.05, 0.3, 0.55, 0.8, 1.05, 1.3]),
    (0.48, [0.15, 0.4, 0.65, 0.9, 1.1]),
    (0.4, [0.2, 0.45, 0.7, 0.95, 1.2]),
    (0.34, [0.25, 0.5, 0.75, 1.0]),
    (0.27, [0.1, 0.35, 0.6, 0.85]),
    (0.2, [0.3, 0.55, 0.75]),
    (0.13, [0.2, 0.45]),
    (0.06, [0.1, 0.35]),
]

c_red = [(-6.46, 5.73), (-4.38, 1.51), (-2.34, 1.90), (-1.64, 3.46), (-1.46, 1.34),
         (-1.17, 1.10), (-0.93, 0.94), (-0.74, 0.40), (-0.51, 0.32), (0.04, 0.18), (0.08, 0.21)]

c_curve_left = [(-1.95, 8.8), (-1.95, 5.49), (-2.0, 4.82), (-2.04, 4.14), (-2.10, 3.13),
                (-2.2, 2.46), (-2.28, 2.0), (-2.36, 1.72), (-2.45, 1.45), (-2.53, 1.21),
                (-2.65, 1.02), (-2.8, 0.88), (-3.0, 0.76), (-3.25, 0.66), (-3.6, 0.58),
                (-4.2, 0.5), (-5.0, 0.44), (-6.27, 0.38), (-8.44, 0.33), (-10.6, 0.30)]
c_curve_right = [(1.83, 8.8), (1.83, 6.84), (1.87, 4.82), (1.91, 4.14), (1.96, 3.47),
                 (2.06, 2.46), (2.14, 2.0), (2.21, 1.72), (2.3, 1.45), (2.4, 1.21),
                 (2.52, 1.02), (2.68, 0.87), (2.88, 0.75), (3.15, 0.64), (3.5, 0.56),
                 (4.16, 0.48), (5.18, 0.42), (6.4, 0.36)]

# ---------------- panel D ----------------
d_xlim = (-10.15, 4.12)
d_ylim = (-0.46, 8.76)
d_xticks = [-10, -5, 0]
d_yticks = [0, 2, 4, 6, 8]

d_scatter = [
    (-7.39, 8.36), (-7.34, 6.23), (-7.0, 6.30), (-6.69, 5.99), (-4.85, 5.69), (-5.33, 5.51),
    (-5.08, 5.24), (-4.71, 5.24), (-4.85, 5.14), (-5.2, 5.08), (-4.04, 4.93), (-5.24, 4.75),
    (-4.94, 4.69), (-9.35, 4.66), (-8.79, 4.54), (-9.45, 4.27), (-9.35, 4.11), (-8.61, 4.29),
    (-6.0, 4.4), (-5.9, 4.3), (-6.1, 4.15), (-6.05, 4.1), (-5.85, 4.05), (-5.38, 4.24),
    (-5.03, 4.14), (-4.88, 4.05), (-4.6, 4.1), (-4.75, 3.95), (-4.28, 4.05), (-3.47, 4.34),
    (-3.47, 4.3), (-2.89, 4.36), (-2.68, 4.69), (-3.43, 3.87), (-2.92, 3.84), (-5.69, 3.81),
    (-5.08, 3.69), (-5.48, 3.6), (-7.04, 3.45), (-6.69, 3.45), (-6.69, 3.23), (-7.55, 3.08),
    (-7.0, 3.05), (-5.5, 3.4), (-5.75, 3.25), (-5.35, 3.2), (-5.35, 3.1), (-4.6, 3.5),
    (-4.2, 3.55), (-4.5, 3.35), (-4.2, 3.35), (-3.5, 3.55), (-3.4, 3.35), (-3.55, 3.25),
    (-4.89, 3.06), (-6.24, 2.94), (-4.2, 3.1), (-4.1, 3.0), (-3.7, 3.05), (-3.6, 3.1),
    (-5.28, 2.8), (-4.5, 2.87), (-3.99, 2.83), (-6.08, 2.6), (-5.65, 2.7), (-5.46, 2.6),
    (-6.4, 2.3), (-6.2, 2.15), (-5.9, 2.2), (-6.05, 2.05), (-5.5, 2.5), (-5.7, 2.45),
    (-5.3, 2.6), (-5.05, 2.62), (-4.9, 2.65), (-4.8, 2.4), (-5.2, 2.2), (-4.97, 2.15),
    (-5.08, 1.84), (-4.5, 2.2), (-4.35, 2.1), (-4.1, 2.0), (-3.95, 2.2), (-3.85, 2.4),
    (-4.38, 1.44), (-4.12, 1.29), (-3.66, 0.81), (-3.40, 0.9),
    (-1.78, 3.97), (-2.32, 3.51), (-1.9, 3.35), (-1.7, 3.3), (-1.8, 3.4), (-1.48, 3.51),
    (-1.02, 3.09), (-1.79, 2.72), (-1.02, 2.73), (-0.75, 2.46),
    (1.24, 4.91), (1.29, 3.99), (0.84, 3.60), (0.28, 3.58), (0.23, 3.45), (0.58, 3.36),
    (0.69, 3.28), (1.70, 3.35), (0.17, 3.0), (0.28, 3.0), (0.62, 2.99), (1.05, 2.82),
    (2.04, 2.66), (2.95, 2.54), (3.48, 2.27), (1.84, 2.30), (2.39, 1.91), (1.84, 1.81),
    (1.78, 1.66), (1.13, 1.79), (1.47, 1.42), (1.73, 1.33), (2.28, 1.06), (1.84, 0.99),
    (1.47, 1.06), (3.35, 0.96), (1.4, 0.85), (1.25, 0.75), (1.45, 0.67), (-0.82, 0.1),
    (-2.76, 0.63), (1.0, 2.5), (1.1, 2.3), (1.2, 2.1), (1.05, 1.5), (1.2, 1.2), (1.15, 0.9),
    (1.3, 1.6),
    (-3.6, 1.7), (-3.9, 1.75), (-4.1, 1.6), (-3.7, 1.5), (-4.3, 1.65), (-3.4, 1.9),
    (-3.7, 2.0), (-3.3, 2.2), (-3.5, 2.4), (-4.0, 2.2), (-4.5, 2.05), (-4.7, 2.15),
    (-5.0, 2.3), (-3.8, 1.95), (-3.45, 1.55), (-3.2, 2.5), (-2.9, 2.9), (-3.0, 2.6),
]

d_rows = [
    # broad middle cluster
    (2.75, [-2.4, -1.2, -0.9]),
    (2.6, [-2.7, -2.2, -1.6, -1.3]),
    (2.45, [-2.5, -2.1, -1.8, -1.4, -0.6, -0.4]),
    (2.3, [-2.8, -2.3, -2.0, -1.5, -1.1, -0.8, -0.5]),
    (2.15, [-2.6, -2.3, -1.9, -1.6, -1.3, -0.9, -0.6]),
    (2.0, [-3.0, -2.7, -2.4, -2.1, -1.7, -1.4, -1.0, -0.7]),
    (1.85, [-2.9, -2.6, -2.3, -2.0, -1.7, -1.4, -1.1, -0.8, -0.5]),
    (1.7, [-3.2, -2.8, -2.5, -2.2, -1.9, -1.6, -1.3, -1.0, -0.7]),
    (1.55, [-3.0, -2.7, -2.4, -2.1, -1.8, -1.5, -1.2, -0.9, -0.6, -0.3]),
    (1.4, [-3.3, -2.9, -2.6, -2.3, -2.0, -1.7, -1.4, -1.1, -0.8, -0.5]),
    (1.33, [-2.05, -1.75, -1.45, -1.15, -0.85, -0.55]),
    (1.25, [-3.1, -2.8, -2.5, -2.2, -1.9, -1.6, -1.3, -1.0, -0.7, -0.4]),
    (1.18, [-1.85, -1.55, -1.25, -0.95, -0.65, -0.35]),
    (1.1, [-2.9, -2.6, -2.3, -2.0, -1.7, -1.4, -1.1, -0.8, -0.5, -0.2]),
    (1.03, [-2.25, -1.95, -1.65, -1.35, -1.05, -0.75, -0.45]),
    (0.95, [-2.7, -2.4, -2.1, -1.8, -1.5, -1.2, -0.9, -0.6, -0.3]),
    (0.88, [-2.05, -1.75, -1.45, -1.15, -0.85, -0.55, -0.25]),
    (0.8, [-2.5, -2.2, -1.9, -1.6, -1.3, -1.0, -0.7, -0.4, -0.15]),
    (0.73, [-2.0, -1.7, -1.4, -1.1, -0.8, -0.5, -0.25]),
    (0.65, [-2.1, -1.8, -1.5, -1.2, -0.9, -0.6, -0.3, -0.05]),
    (0.58, [-1.85, -1.55, -1.25, -0.95, -0.65, -0.35, -0.1]),
    (0.5, [-1.9, -1.6, -1.3, -1.0, -0.7, -0.4, -0.15]),
    (0.43, [-1.7, -1.4, -1.1, -0.8, -0.5, -0.2]),
    (0.35, [-1.5, -1.2, -0.9, -0.6, -0.3, -0.05]),
    (0.29, [-1.3, -1.0, -0.7, -0.4, -0.15]),
    (0.22, [-1.1, -0.8, -0.5, -0.25]),
    (0.16, [-0.9, -0.6, -0.35, -0.1]),
    (0.1, [-0.6, -0.35, -0.1]),
    # right column
    (2.85, [0.3, 0.5]),
    (2.7, [0.2, 0.45, 0.7]),
    (2.55, [0.1, 0.35, 0.6, 0.85]),
    (2.48, [0.3, 0.55]),
    (2.4, [0.2, 0.45, 0.7]),
    (2.33, [0.3, 0.55, 0.8]),
    (2.25, [0.1, 0.35, 0.6, 0.85]),
    (2.18, [0.25, 0.5, 0.75]),
    (2.1, [0.2, 0.45, 0.7, 0.95]),
    (2.03, [0.3, 0.55, 0.8]),
    (1.95, [0.1, 0.35, 0.6, 0.85]),
    (1.88, [0.25, 0.5, 0.75]),
    (1.8, [0.15, 0.4, 0.65, 0.9]),
    (1.73, [0.25, 0.5, 0.75]),
    (1.65, [0.05, 0.3, 0.55, 0.8, 1.0]),
    (1.58, [0.2, 0.45, 0.7, 0.9]),
    (1.5, [0.15, 0.4, 0.65, 0.9]),
    (1.43, [0.1, 0.35, 0.6, 0.85]),
    (1.35, [0.05, 0.3, 0.55, 0.8, 1.05]),
    (1.28, [0.2, 0.45, 0.7, 0.95]),
    (1.2, [0.15, 0.4, 0.65, 0.9]),
    (1.13, [0.1, 0.35, 0.6, 0.85]),
    (1.05, [0.0, 0.25, 0.5, 0.75, 1.0]),
    (0.98, [0.15, 0.4, 0.65, 0.9]),
    (0.9, [0.1, 0.35, 0.6, 0.85]),
    (0.83, [0.05, 0.3, 0.55, 0.8]),
    (0.75, [0.0, 0.25, 0.5, 0.75, 1.0]),
    (0.68, [0.15, 0.4, 0.65, 0.9]),
    (0.6, [0.1, 0.35, 0.6, 0.85]),
    (0.53, [0.1, 0.35, 0.6, 0.85]),
    (0.45, [0.0, 0.25, 0.5, 0.75]),
    (0.38, [0.15, 0.4, 0.65]),
    (0.32, [0.1, 0.35, 0.6]),
    (0.25, [0.1, 0.35, 0.6]),
    (0.18, [0.0, 0.25, 0.5]),
    (0.12, [0.0, 0.2, 0.4]),
    (0.06, [0.1, 0.3]),
]

d_red = [(-2.08, 0.27), (-0.28, 0.03), (0.13, 0.03), (0.68, 0.24), (0.78, 0.66),
         (1.39, 0.42), (2.95, 0.69)]

d_curve_left = [(-2.42, 8.9), (-2.42, 7.18), (-2.49, 6.16), (-2.56, 5.14), (-2.63, 4.12),
                (-2.71, 3.11), (-2.8, 2.6), (-2.9, 2.2), (-3.03, 1.89), (-3.16, 1.62),
                (-3.3, 1.41), (-3.5, 1.22), (-3.71, 1.07), (-4.0, 0.95), (-4.33, 0.86),
                (-4.8, 0.77), (-5.36, 0.69), (-6.0, 0.63), (-6.8, 0.58), (-8.35, 0.52),
                (-10.2, 0.45)]
d_curve_right = [(2.33, 8.9), (2.33, 7.5), (2.37, 6.16), (2.44, 4.80), (2.53, 3.79),
                 (2.6, 3.2), (2.66, 2.77), (2.76, 2.3), (2.89, 1.95), (3.0, 1.72),
                 (3.14, 1.48), (3.3, 1.3), (3.51, 1.14), (3.7, 1.03), (3.92, 0.94),
                 (4.2, 0.86)]


def expand(rows):
    xs, ys = [], []
    for y, row in rows:
        xs += row
        ys += [y] * len(row)
    return xs, ys


def panel(ax, scatter, rows, red, curves, xlim, ylim, xticks, yticks):
    gx, gy = expand(rows)
    gx += [p[0] for p in scatter]
    gy += [p[1] for p in scatter]
    ax.plot(gx, gy, linestyle='none', marker='s', ms=4.9, mfc='none',
            mec=GREY, mew=1.0, zorder=2)
    for c in curves:
        ax.plot([p[0] for p in c], [p[1] for p in c], color='black', lw=2.3,
                solid_joinstyle='round', zorder=3)
    ax.plot([p[0] for p in red], [p[1] for p in red], linestyle='none', marker='o',
            ms=8.6, color='#ff0000', mew=0, zorder=4)
    ax.set_xlim(*xlim)
    ax.set_ylim(*ylim)
    ax.set_xticks(xticks)
    ax.set_yticks(yticks)
    for s in ('top', 'right'):
        ax.spines[s].set_visible(False)
    for s in ('left', 'bottom'):
        ax.spines[s].set_linewidth(1.0)
    ax.tick_params(axis='x', length=8, width=0.7, pad=2, labelsize=14)
    ax.tick_params(axis='y', length=7, width=0.7, pad=3.5, labelsize=14, labelrotation=90)
    for lab in ax.get_yticklabels():
        lab.set_va('center')


fig = plt.figure(figsize=(12, 13.6233), dpi=300)

ax_a = fig.add_axes([0.1258, 0.5882, 0.4075, 0.3829])
ax_b = fig.add_axes([0.5928, 0.5865, 0.4072, 0.3807])
ax_c = fig.add_axes([0.1244, 0.1199, 0.4014, 0.3778])
ax_d = fig.add_axes([0.5931, 0.1209, 0.4069, 0.3814])

panel(ax_a, a_scatter, a_rows, a_red, [a_curve_left, a_curve_right],
      a_xlim, a_ylim, a_xticks, a_yticks)
panel(ax_b, b_scatter, b_rows, b_red, [b_curve_left, b_curve_right],
      b_xlim, b_ylim, b_xticks, b_yticks)
panel(ax_c, c_scatter, c_rows, c_red, [c_curve_left, c_curve_right],
      c_xlim, c_ylim, c_xticks, c_yticks)
panel(ax_d, d_scatter, d_rows, d_red, [d_curve_left, d_curve_right],
      d_xlim, d_ylim, d_xticks, d_yticks)

# panel letters
for letter, x, y in [('A', 0.075, 0.9826), ('B', 0.538, 0.9826),
                     ('C', 0.075, 0.5076), ('D', 0.538, 0.5076)]:
    fig.text(x, y, letter, fontsize=20, fontweight='bold', ha='left', va='baseline')

fig.text(0.020, 0.5689, 'Significance (-log10 p-value)', rotation=90,
         fontsize=33, ha='center', va='center')
fig.text(0.557, 0.0504, 'Log2 expression ratio', fontsize=32.5, fontweight='bold',
         ha='center', va='baseline')
fig.text(0.557, 0.0093, '(inclusion bodies:whole cell extracts)', fontsize=32.5,
         fontweight='bold', ha='center', va='baseline')

fig.savefig('out.png', dpi=300)
